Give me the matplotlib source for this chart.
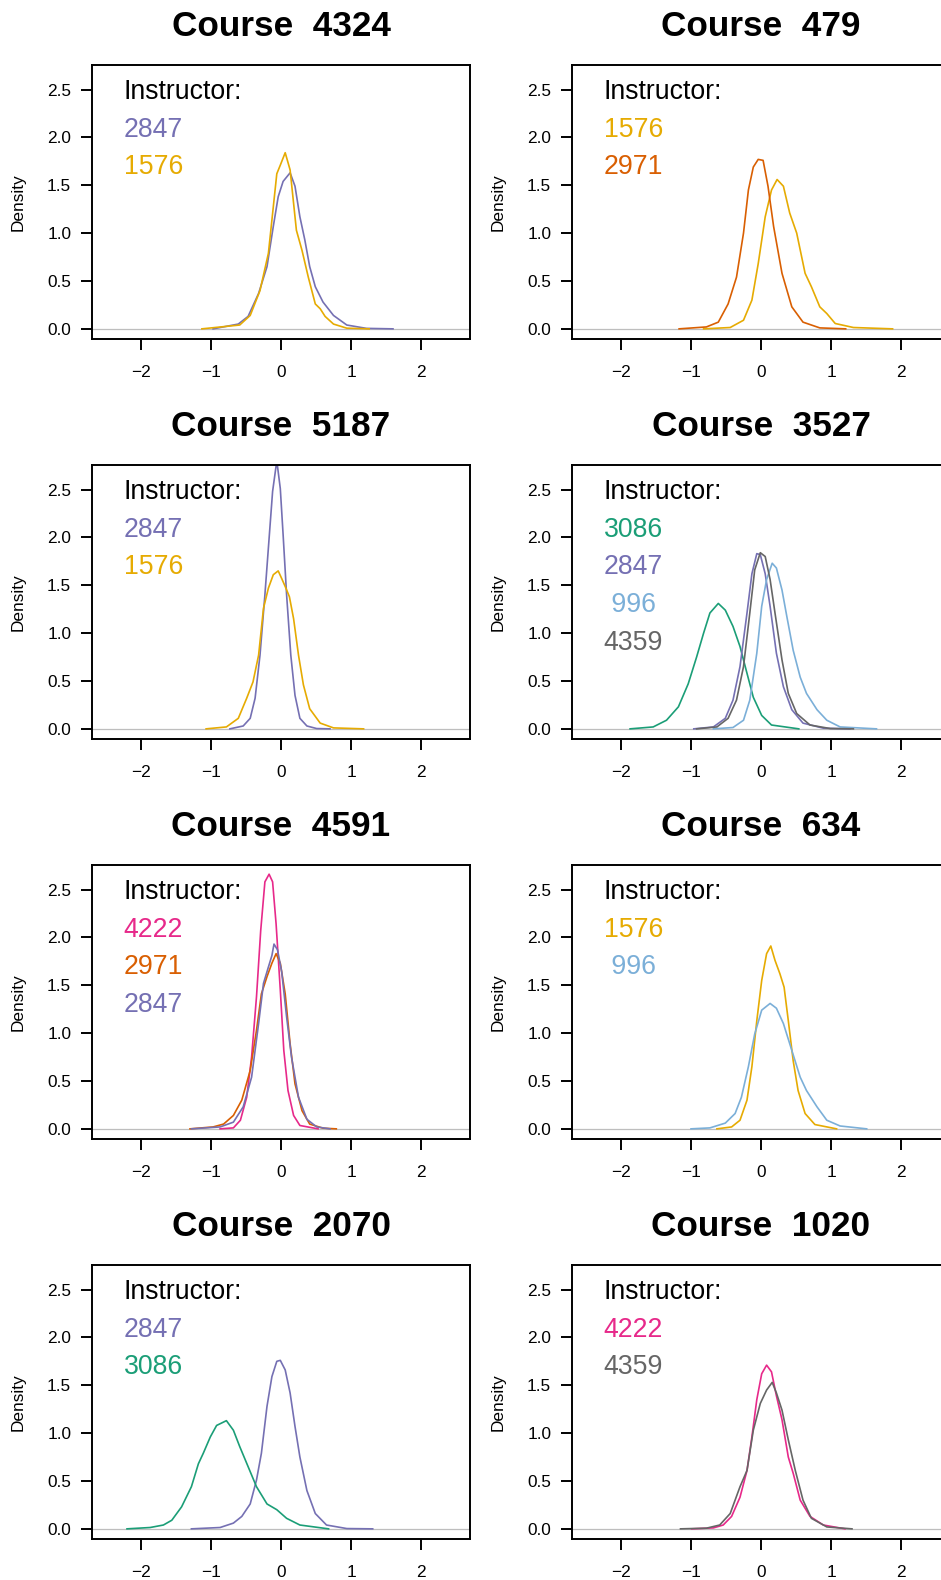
import matplotlib
matplotlib.use("Agg")
import matplotlib.pyplot as plt
from matplotlib.ticker import FixedLocator, FormatStrFormatter

plt.rcParams['font.family'] = ['Liberation Sans', 'DejaVu Sans']

# colours per instructor
inst_colors = {
    '2847': '#7570B3', '1576': '#E6AB02', '2971': '#D95F02', '3086': '#1B9E77',
    '996': '#7BAFD8', '4359': '#666666', '4222': '#E7298A',
}

# Course 4324
c4324_2847_x = [-0.97, -0.61, -0.47, -0.32, -0.20, -0.11, -0.04, 0.03, 0.13, 0.20, 0.27, 0.34, 0.41, 0.49, 0.60, 0.75, 0.94, 1.22, 1.60]
c4324_2847_y = [0.0, 0.05, 0.13, 0.37, 0.65, 1.07, 1.38, 1.54, 1.63, 1.49, 1.17, 0.93, 0.65, 0.44, 0.28, 0.14, 0.04, 0.005, 0.0]
c4324_1576_x = [-1.13, -0.59, -0.44, -0.30, -0.18, -0.06, -0.01, 0.06, 0.13, 0.22, 0.30, 0.39, 0.49, 0.56, 0.63, 0.75, 0.94, 1.26]
c4324_1576_y = [0.0, 0.04, 0.14, 0.40, 0.79, 1.62, 1.71, 1.84, 1.66, 1.03, 0.82, 0.54, 0.26, 0.21, 0.13, 0.05, 0.007, 0.0]

# Course 479
c479_1576_x = [-0.82, -0.44, -0.25, -0.13, -0.04, 0.06, 0.15, 0.23, 0.32, 0.41, 0.51, 0.63, 0.72, 0.84, 0.94, 1.06, 1.32, 1.88]
c479_1576_y = [0.0, 0.014, 0.09, 0.30, 0.68, 1.17, 1.45, 1.56, 1.49, 1.21, 1.0, 0.58, 0.44, 0.23, 0.16, 0.056, 0.014, 0.0]
c479_2971_x = [-1.17, -0.78, -0.61, -0.47, -0.35, -0.25, -0.18, -0.11, -0.04, 0.03, 0.10, 0.18, 0.30, 0.44, 0.60, 0.84, 1.21]
c479_2971_y = [0.0, 0.02, 0.07, 0.26, 0.54, 1.0, 1.45, 1.69, 1.77, 1.76, 1.49, 1.07, 0.58, 0.23, 0.07, 0.01, 0.0]

# Course 5187
c5187_2847_x = [-0.73, -0.54, -0.44, -0.37, -0.30, -0.23, -0.17, -0.12, -0.06, -0.01, 0.03, 0.08, 0.14, 0.20, 0.27, 0.37, 0.51, 0.70]
c5187_2847_y = [0.0, 0.03, 0.11, 0.32, 0.77, 1.40, 1.99, 2.48, 2.80, 2.51, 2.03, 1.40, 0.77, 0.35, 0.11, 0.03, 0.003, 0.0]
c5187_1576_x = [-1.07, -0.78, -0.61, -0.49, -0.40, -0.32, -0.25, -0.18, -0.11, -0.04, 0.01, 0.07, 0.12, 0.18, 0.25, 0.32, 0.41, 0.56, 0.75, 1.18]
c5187_1576_y = [0.0, 0.02, 0.11, 0.32, 0.49, 0.77, 1.26, 1.47, 1.61, 1.65, 1.57, 1.47, 1.38, 1.15, 0.77, 0.46, 0.21, 0.06, 0.01, 0.0]

# Course 3527
c3527_3086_x = [-1.87, -1.54, -1.35, -1.18, -1.04, -0.92, -0.82, -0.73, -0.61, -0.51, -0.40, -0.30, -0.20, -0.11, 0.01, 0.15, 0.54]
c3527_3086_y = [0.0, 0.02, 0.09, 0.23, 0.47, 0.75, 1.0, 1.21, 1.31, 1.24, 1.07, 0.86, 0.58, 0.33, 0.14, 0.04, 0.0]
c3527_2847_x = [-0.96, -0.68, -0.51, -0.40, -0.30, -0.20, -0.13, -0.06, -0.01, 0.06, 0.13, 0.22, 0.32, 0.44, 0.60, 0.89, 1.27]
c3527_2847_y = [0.0, 0.02, 0.11, 0.30, 0.65, 1.21, 1.62, 1.83, 1.82, 1.62, 1.28, 0.79, 0.44, 0.20, 0.06, 0.007, 0.0]
c3527_996_x = [-0.68, -0.40, -0.25, -0.16, -0.06, 0.01, 0.08, 0.16, 0.22, 0.30, 0.37, 0.46, 0.56, 0.65, 0.80, 0.94, 1.13, 1.65]
c3527_996_y = [0.0, 0.014, 0.09, 0.30, 0.79, 1.28, 1.56, 1.73, 1.68, 1.45, 1.17, 0.82, 0.54, 0.37, 0.20, 0.09, 0.02, 0.0]
c3527_4359_x = [-0.92, -0.63, -0.47, -0.35, -0.25, -0.16, -0.09, -0.01, 0.06, 0.13, 0.20, 0.30, 0.39, 0.51, 0.70, 0.99, 1.32]
c3527_4359_y = [0.0, 0.02, 0.11, 0.30, 0.65, 1.21, 1.66, 1.84, 1.80, 1.56, 1.21, 0.72, 0.37, 0.16, 0.04, 0.003, 0.0]

# Course 4591
c4591_4222_x = [-0.87, -0.68, -0.58, -0.49, -0.42, -0.35, -0.29, -0.23, -0.17, -0.12, -0.07, -0.01, 0.04, 0.10, 0.18, 0.27, 0.53]
c4591_4222_y = [0.0, 0.01, 0.09, 0.33, 0.75, 1.38, 2.07, 2.58, 2.66, 2.58, 2.14, 1.45, 0.82, 0.40, 0.14, 0.035, 0.0]
c4591_2971_x = [-1.30, -0.97, -0.82, -0.68, -0.56, -0.44, -0.35, -0.28, -0.20, -0.13, -0.07, -0.01, 0.06, 0.13, 0.20, 0.30, 0.41, 0.60, 0.79]
c4591_2971_y = [0.0, 0.02, 0.05, 0.14, 0.30, 0.61, 1.03, 1.41, 1.59, 1.73, 1.83, 1.73, 1.41, 0.89, 0.47, 0.19, 0.05, 0.007, 0.0]
c4591_2847_x = [-1.28, -0.87, -0.68, -0.54, -0.42, -0.32, -0.25, -0.18, -0.13, -0.10, -0.05, 0.01, 0.08, 0.15, 0.25, 0.37, 0.51, 0.70]
c4591_2847_y = [0.0, 0.02, 0.07, 0.23, 0.54, 1.10, 1.52, 1.69, 1.81, 1.93, 1.87, 1.64, 1.17, 0.75, 0.33, 0.10, 0.02, 0.0]

# Course 634
c634_1576_x = [-0.63, -0.42, -0.30, -0.20, -0.13, -0.06, 0.01, 0.08, 0.14, 0.20, 0.27, 0.33, 0.39, 0.46, 0.53, 0.63, 0.77, 1.08]
c634_1576_y = [0.0, 0.02, 0.09, 0.30, 0.65, 1.13, 1.55, 1.83, 1.91, 1.76, 1.62, 1.48, 1.13, 0.71, 0.40, 0.16, 0.045, 0.0]
c634_996_x = [-1.0, -0.73, -0.51, -0.37, -0.28, -0.18, -0.09, 0.01, 0.13, 0.22, 0.32, 0.44, 0.56, 0.65, 0.80, 0.94, 1.13, 1.51]
c634_996_y = [0.0, 0.01, 0.06, 0.16, 0.33, 0.65, 0.99, 1.24, 1.31, 1.26, 1.10, 0.82, 0.54, 0.40, 0.23, 0.09, 0.03, 0.0]

# Course 2070
c2070_2847_x = [-1.28, -0.87, -0.68, -0.56, -0.44, -0.35, -0.28, -0.20, -0.13, -0.06, -0.01, 0.06, 0.13, 0.20, 0.27, 0.37, 0.49, 0.65, 0.94, 1.31]
c2070_2847_y = [0.0, 0.014, 0.06, 0.13, 0.26, 0.51, 0.79, 1.28, 1.59, 1.75, 1.76, 1.66, 1.42, 1.07, 0.75, 0.40, 0.16, 0.04, 0.003, 0.0]
c2070_3086_x = [-2.20, -1.87, -1.68, -1.56, -1.42, -1.28, -1.18, -1.11, -1.01, -0.92, -0.78, -0.68, -0.59, -0.47, -0.35, -0.20, -0.06, 0.08, 0.27, 0.68]
c2070_3086_y = [0.0, 0.014, 0.04, 0.09, 0.23, 0.44, 0.68, 0.79, 0.96, 1.08, 1.13, 1.03, 0.86, 0.65, 0.44, 0.26, 0.20, 0.11, 0.04, 0.0]

# Course 1020
c1020_4222_x = [-0.99, -0.68, -0.54, -0.42, -0.30, -0.20, -0.13, -0.06, 0.01, 0.08, 0.15, 0.22, 0.30, 0.39, 0.46, 0.56, 0.70, 0.89, 1.20]
c1020_4222_y = [0.0, 0.01, 0.04, 0.13, 0.33, 0.61, 0.96, 1.35, 1.62, 1.71, 1.64, 1.39, 1.14, 0.75, 0.58, 0.30, 0.13, 0.04, 0.0]
c1020_4359_x = [-1.15, -0.78, -0.59, -0.44, -0.30, -0.20, -0.11, -0.01, 0.08, 0.16, 0.22, 0.30, 0.39, 0.49, 0.60, 0.72, 0.94, 1.30]
c1020_4359_y = [0.0, 0.007, 0.04, 0.16, 0.44, 0.61, 1.03, 1.31, 1.45, 1.53, 1.42, 1.24, 0.93, 0.61, 0.30, 0.11, 0.02, 0.0]

courses = ['4324', '479', '5187', '3527', '4591', '634', '2070', '1020']
instructors = {
    '4324': ['2847', '1576'],
    '479': ['1576', '2971'],
    '5187': ['2847', '1576'],
    '3527': ['3086', '2847', '996', '4359'],
    '4591': ['4222', '2971', '2847'],
    '634': ['1576', '996'],
    '2070': ['2847', '3086'],
    '1020': ['4222', '4359'],
}
curves = {
    '4324': [(c4324_2847_x, c4324_2847_y), (c4324_1576_x, c4324_1576_y)],
    '479': [(c479_1576_x, c479_1576_y), (c479_2971_x, c479_2971_y)],
    '5187': [(c5187_2847_x, c5187_2847_y), (c5187_1576_x, c5187_1576_y)],
    '3527': [(c3527_3086_x, c3527_3086_y), (c3527_2847_x, c3527_2847_y),
             (c3527_996_x, c3527_996_y), (c3527_4359_x, c3527_4359_y)],
    '4591': [(c4591_4222_x, c4591_4222_y), (c4591_2971_x, c4591_2971_y), (c4591_2847_x, c4591_2847_y)],
    '634': [(c634_1576_x, c634_1576_y), (c634_996_x, c634_996_y)],
    '2070': [(c2070_2847_x, c2070_2847_y), (c2070_3086_x, c2070_3086_y)],
    '1020': [(c1020_4222_x, c1020_4222_y), (c1020_4359_x, c1020_4359_y)],
}

x_ticks = [-2, -1, 0, 1, 2]
y_ticks = [0.0, 0.5, 1.0, 1.5, 2.0, 2.5]

W, H = 941, 1580
fig = plt.figure(figsize=(W / 100, H / 100), dpi=100)

box_w, box_h = 378, 274
col_left = [92, 572]
for i, course in enumerate(courses):
    r, c = divmod(i, 2)
    top = 65 + 400 * r
    ax = fig.add_axes([col_left[c] / W, 1 - (top + box_h) / H, box_w / W, box_h / H])
    ax.axhline(0, color='#bebebe', lw=0.9, zorder=1)
    for inst, (xs, ys) in zip(instructors[course], curves[course]):
        ax.plot(xs, ys, color=inst_colors[inst], lw=1.2, zorder=2)
    ax.set_xlim(-2.7, 2.7)
    ax.set_ylim(-0.106, 2.756)
    ax.xaxis.set_major_locator(FixedLocator(x_ticks))
    ax.yaxis.set_major_locator(FixedLocator(y_ticks))
    ax.yaxis.set_major_formatter(FormatStrFormatter('%.1f'))
    ax.tick_params(axis='both', direction='out', length=8, width=1.4, labelsize=12.4)
    ax.tick_params(axis='x', pad=11)
    ax.tick_params(axis='y', pad=7)
    for sp in ax.spines.values():
        sp.set_linewidth(1.4)
    ax.set_ylabel('Density', fontsize=12.4)
    ax.yaxis.set_label_coords(-0.175, 0.5)
    ax.set_title('Course  ' + course, fontsize=25.3, fontweight='bold', pad=21)

    # legend block
    ax.text(0.084, 0.876, 'Instructor:', transform=ax.transAxes, fontsize=19.2,
            ha='left', va='baseline', color='black')
    for k, inst in enumerate(instructors[course]):
        label = inst if len(inst) == 4 else ' ' + inst
        ax.text(0.084, 0.876 - (k + 1) * 0.1376, label, transform=ax.transAxes,
                fontsize=19.2, ha='left', va='baseline', color=inst_colors[inst])

fig.savefig('out.png', dpi=100)
